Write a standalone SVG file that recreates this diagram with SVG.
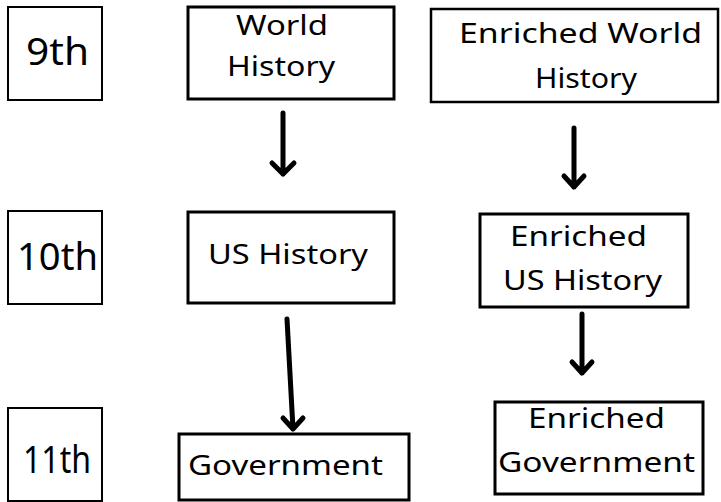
<svg xmlns="http://www.w3.org/2000/svg" width="721" height="502" viewBox="0 0 721 502">
<style>
.box{fill:#fff;stroke:#000;stroke-width:3}
.yr{fill:#fff;stroke:#000;stroke-width:2}
text{font-family:"Noto Sans","DejaVu Sans","Liberation Sans",sans-serif;font-size:28px;fill:#000;text-anchor:middle}
.lg{font-size:38px}
.arr{fill:none;stroke:#000;stroke-width:5;stroke-linecap:round;stroke-linejoin:round}
</style>
<rect width="721" height="502" fill="#fff"/>
<g id="y9"><rect class="yr" x="8" y="7" width="94" height="93"/><text class="lg" x="57.5" y="65" textLength="63" lengthAdjust="spacingAndGlyphs">9th</text></g>
<g id="y10"><rect class="yr" x="8" y="211" width="94" height="93"/><text class="lg" x="57.5" y="270" textLength="81" lengthAdjust="spacingAndGlyphs">10th</text></g>
<g id="y11"><rect class="yr" x="8" y="408" width="94" height="93"/><text class="lg" x="57" y="473" textLength="68" lengthAdjust="spacingAndGlyphs">11th</text></g>
<g id="wh"><rect class="box" x="188" y="7" width="206" height="92"/><text x="282" y="35" textLength="92" lengthAdjust="spacingAndGlyphs">World</text><text x="281" y="76" textLength="108" lengthAdjust="spacingAndGlyphs">History</text></g>
<g id="ewh"><rect class="yr" x="431" y="9" width="287" height="93" style="stroke-width:2.5"/><text x="580.5" y="43" textLength="243" lengthAdjust="spacingAndGlyphs">Enriched World</text><text x="586" y="88" textLength="102" lengthAdjust="spacingAndGlyphs">History</text></g>
<g id="ush"><rect class="box" x="188" y="212" width="206" height="91"/><text x="288" y="264" textLength="160" lengthAdjust="spacingAndGlyphs">US History</text></g>
<g id="eush"><rect class="box" x="480" y="214" width="208" height="93"/><text x="578.5" y="246" textLength="137" lengthAdjust="spacingAndGlyphs">Enriched</text><text x="582.5" y="290" textLength="159" lengthAdjust="spacingAndGlyphs">US History</text></g>
<g id="gov"><rect class="box" x="179" y="434" width="230" height="66"/><text x="285.5" y="475" textLength="195" lengthAdjust="spacingAndGlyphs">Government</text></g>
<g id="egov"><rect class="box" x="495" y="402" width="208" height="92"/><text x="596.5" y="428" textLength="137" lengthAdjust="spacingAndGlyphs">Enriched</text><text x="596.5" y="472" textLength="197" lengthAdjust="spacingAndGlyphs">Government</text></g>
<g id="connectors">
<path class="arr" d="M283,113 L283,174 M272,163 L283,174 L294,163"/>
<path class="arr" d="M287,319 L293,429 M283,418 L293,429 L303,418"/>
<path class="arr" d="M574,128 L574,187 M564,176 L574,187 L584,176"/>
<path class="arr" d="M582,314 L582,373 M572,362 L582,373 L592,362"/>
</g>
</svg>
